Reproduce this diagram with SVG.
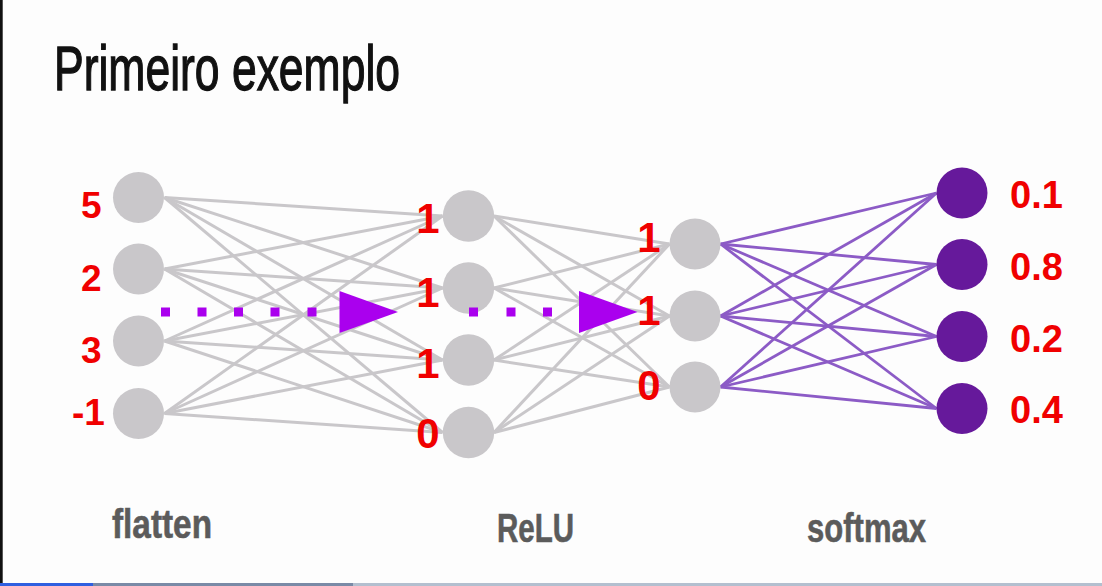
<svg xmlns="http://www.w3.org/2000/svg" width="1102" height="586" viewBox="0 0 1102 586">
<style>
.g{stroke:#c9c7ca;stroke-width:3;fill:none}
.p{stroke:#8c5bc6;stroke-width:2.8;fill:none}
.n{fill:#c9c7ca}
.o{fill:#66199b}
.v{font-family:"Liberation Sans",Arial,sans-serif;font-weight:bold;fill:#f00000}
.s{font-size:37px}
.m{font-size:42px;text-anchor:middle}
.r{font-size:38px}
.lab{font-family:"Liberation Sans",Arial,sans-serif;font-weight:bold;font-size:40px;fill:#5b5b5b;stroke:#5b5b5b;stroke-width:0.6}
.dot{fill:#aa00ee}
</style>
<rect width="1102" height="586" fill="#fdfdfd"/>
<rect x="0" y="0" width="2.7" height="583" fill="#111"/>
<g id="progress">
<rect x="0" y="583" width="93" height="3" fill="#2f5fe0"/>
<rect x="93" y="583" width="260" height="3" fill="#7a8aa6"/>
<rect x="353" y="583" width="749" height="3" fill="#b3bfcf"/>
</g>
<text id="title" x="54" y="90" font-family="'Liberation Sans',Arial,sans-serif" font-size="63" fill="#111" stroke="#111" stroke-width="1.3" textLength="346" lengthAdjust="spacingAndGlyphs">Primeiro exemplo</text>
<g id="connectors">
<line class="g" x1="164.5" y1="197.5" x2="442.5" y2="216"/>
<line class="g" x1="164.5" y1="197.5" x2="442.5" y2="288"/>
<line class="g" x1="164.5" y1="197.5" x2="442.5" y2="360"/>
<line class="g" x1="164.5" y1="197.5" x2="442.5" y2="432.5"/>
<line class="g" x1="164.5" y1="269" x2="442.5" y2="216"/>
<line class="g" x1="164.5" y1="269" x2="442.5" y2="288"/>
<line class="g" x1="164.5" y1="269" x2="442.5" y2="360"/>
<line class="g" x1="164.5" y1="269" x2="442.5" y2="432.5"/>
<line class="g" x1="164.5" y1="341" x2="442.5" y2="216"/>
<line class="g" x1="164.5" y1="341" x2="442.5" y2="288"/>
<line class="g" x1="164.5" y1="341" x2="442.5" y2="360"/>
<line class="g" x1="164.5" y1="341" x2="442.5" y2="432.5"/>
<line class="g" x1="164.5" y1="413.5" x2="442.5" y2="216"/>
<line class="g" x1="164.5" y1="413.5" x2="442.5" y2="288"/>
<line class="g" x1="164.5" y1="413.5" x2="442.5" y2="360"/>
<line class="g" x1="164.5" y1="413.5" x2="442.5" y2="432.5"/>
<line class="g" x1="494" y1="216" x2="669.5" y2="244"/>
<line class="g" x1="494" y1="216" x2="669.5" y2="316"/>
<line class="g" x1="494" y1="216" x2="669.5" y2="387"/>
<line class="g" x1="494" y1="288" x2="669.5" y2="244"/>
<line class="g" x1="494" y1="288" x2="669.5" y2="316"/>
<line class="g" x1="494" y1="288" x2="669.5" y2="387"/>
<line class="g" x1="494" y1="360" x2="669.5" y2="244"/>
<line class="g" x1="494" y1="360" x2="669.5" y2="316"/>
<line class="g" x1="494" y1="360" x2="669.5" y2="387"/>
<line class="g" x1="494" y1="432.5" x2="669.5" y2="244"/>
<line class="g" x1="494" y1="432.5" x2="669.5" y2="316"/>
<line class="g" x1="494" y1="432.5" x2="669.5" y2="387"/>
<line class="p" x1="720.5" y1="244" x2="936.5" y2="193"/>
<line class="p" x1="720.5" y1="244" x2="936.5" y2="264.5"/>
<line class="p" x1="720.5" y1="244" x2="936.5" y2="336.5"/>
<line class="p" x1="720.5" y1="244" x2="936.5" y2="408.5"/>
<line class="p" x1="720.5" y1="316" x2="936.5" y2="193"/>
<line class="p" x1="720.5" y1="316" x2="936.5" y2="264.5"/>
<line class="p" x1="720.5" y1="316" x2="936.5" y2="336.5"/>
<line class="p" x1="720.5" y1="316" x2="936.5" y2="408.5"/>
<line class="p" x1="720.5" y1="387" x2="936.5" y2="193"/>
<line class="p" x1="720.5" y1="387" x2="936.5" y2="264.5"/>
<line class="p" x1="720.5" y1="387" x2="936.5" y2="336.5"/>
<line class="p" x1="720.5" y1="387" x2="936.5" y2="408.5"/>
</g>
<g id="flatten-layer">
<g id="f1"><circle class="n" cx="138.5" cy="197.5" r="25.5"/><text class="v s" x="81" y="218">5</text></g>
<g id="f2"><circle class="n" cx="138.5" cy="269" r="25.5"/><text class="v s" x="81" y="291">2</text></g>
<g id="f3"><circle class="n" cx="138.5" cy="341" r="25.5"/><text class="v s" x="81" y="363">3</text></g>
<g id="f4"><circle class="n" cx="138.5" cy="413.5" r="25.5"/><text class="v s" x="72" y="425">-1</text></g>
</g>
<g id="relu-layer">
<g id="h1"><circle class="n" cx="468.5" cy="216" r="25.7"/><text class="v m" x="428" y="233">1</text></g>
<g id="h2"><circle class="n" cx="468.5" cy="288" r="25.7"/><text class="v m" x="428" y="307">1</text></g>
<g id="h3"><circle class="n" cx="468.5" cy="360" r="25.7"/><text class="v m" x="428" y="378">1</text></g>
<g id="h4"><circle class="n" cx="468.5" cy="432.5" r="25.7"/><text class="v m" x="428" y="448">0</text></g>
</g>
<g id="layer3">
<g id="k1"><circle class="n" cx="695" cy="244" r="25.5"/><text class="v m" x="649" y="252">1</text></g>
<g id="k2"><circle class="n" cx="695" cy="316" r="25.5"/><text class="v m" x="649" y="325">1</text></g>
<g id="k3"><circle class="n" cx="695" cy="387" r="25.5"/><text class="v m" x="649" y="400">0</text></g>
</g>
<g id="softmax-layer">
<g id="o1"><circle class="o" cx="962" cy="193" r="25.5"/><text class="v r" x="1010" y="208">0.1</text></g>
<g id="o2"><circle class="o" cx="962" cy="264.5" r="25.5"/><text class="v r" x="1010" y="280">0.8</text></g>
<g id="o3"><circle class="o" cx="962" cy="336.5" r="25.5"/><text class="v r" x="1010" y="352">0.2</text></g>
<g id="o4"><circle class="o" cx="962" cy="408.5" r="25.5"/><text class="v r" x="1010" y="423">0.4</text></g>
</g>
<g id="arrow1">
<rect class="dot" x="161" y="307.5" width="9" height="9"/>
<rect class="dot" x="197.5" y="307.5" width="9" height="9"/>
<rect class="dot" x="234" y="307.5" width="9" height="9"/>
<rect class="dot" x="270.5" y="307.5" width="9" height="9"/>
<rect class="dot" x="307.5" y="307.5" width="9" height="9"/>
<polygon class="dot" points="339.5,291 398,312 339.5,333"/>
</g>
<g id="arrow2">
<rect class="dot" x="469" y="307.5" width="9" height="9"/>
<rect class="dot" x="506.5" y="307.5" width="9" height="9"/>
<rect class="dot" x="543" y="307.5" width="9" height="9"/>
<polygon class="dot" points="579,291 637.5,312 579,333"/>
</g>
<text id="lab-flatten" class="lab" x="112" y="538" textLength="100" lengthAdjust="spacingAndGlyphs">flatten</text>
<text id="lab-relu" class="lab" x="497" y="542" textLength="77" lengthAdjust="spacingAndGlyphs">ReLU</text>
<text id="lab-softmax" class="lab" x="807" y="542" textLength="119" lengthAdjust="spacingAndGlyphs">softmax</text>
</svg>
